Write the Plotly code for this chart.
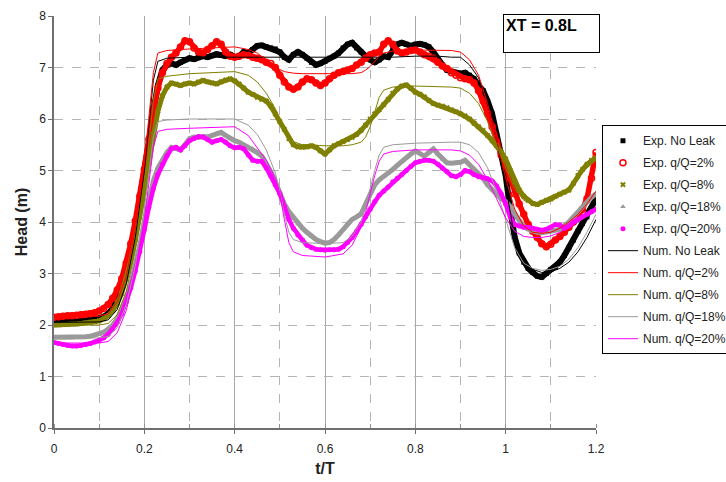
import plotly.graph_objects as go

# ---- sample times ----
t_exp = [round(i / 100, 2) for i in range(121)]  # 0.00 .. 1.20 step 0.01

t_num = [0.00, 0.05, 0.10, 0.12, 0.14, 0.16, 0.18, 0.20, 0.21, 0.22, 0.23, 0.25,
         0.30, 0.35, 0.40, 0.43, 0.45, 0.47, 0.49, 0.50, 0.51, 0.52, 0.53, 0.55,
         0.60, 0.64, 0.66, 0.68, 0.69, 0.70, 0.71, 0.72, 0.73, 0.75, 0.80, 0.85,
         0.88, 0.90, 0.92, 0.94, 0.96, 0.98, 1.00, 1.02, 1.04, 1.06, 1.08, 1.10,
         1.12, 1.14, 1.16, 1.18, 1.20]

# ---- experimental heads (m) ----
exp_no_leak = [
    2.05, 2.06, 2.07, 2.07, 2.08, 2.08, 2.08, 2.09, 2.10, 2.11,
    2.13, 2.16, 2.22, 2.32, 2.48, 2.72, 3.05, 3.45, 3.90, 4.40,
    4.95, 5.55, 6.15, 6.65, 6.95, 7.05, 7.08, 7.05, 7.10, 7.15,
    7.18, 7.16, 7.20, 7.22, 7.20, 7.23, 7.26, 7.24, 7.22, 7.25,
    7.20, 7.22, 7.30, 7.28, 7.35, 7.42, 7.43, 7.40, 7.38, 7.36,
    7.30, 7.20, 7.15, 7.25, 7.30, 7.25, 7.18, 7.10, 7.05, 7.08,
    7.12, 7.18, 7.22, 7.28, 7.38, 7.45, 7.48, 7.38, 7.30, 7.22,
    7.15, 7.10, 7.15, 7.22, 7.20, 7.35, 7.45, 7.48, 7.45, 7.42,
    7.45, 7.46, 7.44, 7.40, 7.30, 7.15, 7.05, 6.95, 6.92, 6.90,
    6.88, 6.90, 6.85, 6.78, 6.65, 6.55, 6.35, 6.10, 5.70, 5.30,
    4.90, 4.25, 3.70, 3.40, 3.22, 3.10, 3.02, 2.95, 2.93, 3.00,
    3.08, 3.12, 3.22, 3.35, 3.50, 3.65, 3.82, 3.97, 4.10, 4.25,
    4.45]

exp_q2 = [
    2.15, 2.16, 2.17, 2.18, 2.18, 2.19, 2.20, 2.21, 2.22, 2.24,
    2.27, 2.32, 2.40, 2.52, 2.68, 2.90, 3.20, 3.58, 4.02, 4.50,
    5.02, 5.60, 6.15, 6.60, 6.90, 7.08, 7.20, 7.28, 7.40, 7.52,
    7.50, 7.38, 7.30, 7.28, 7.35, 7.42, 7.50, 7.45, 7.30, 7.22,
    7.20, 7.22, 7.25, 7.24, 7.20, 7.18, 7.15, 7.10, 7.08, 7.00,
    6.85, 6.72, 6.62, 6.58, 6.62, 6.72, 6.78, 6.76, 6.70, 6.65,
    6.70, 6.78, 6.85, 6.90, 6.92, 6.95, 6.98, 7.05, 7.10, 7.18,
    7.25, 7.28, 7.30, 7.45, 7.52, 7.45, 7.32, 7.28, 7.30, 7.33,
    7.34, 7.30, 7.25, 7.22, 7.18, 7.10, 7.03, 6.98, 6.90, 6.85,
    6.80, 6.78, 6.76, 6.70, 6.55, 6.35, 6.10, 5.85, 5.55, 5.30,
    5.10, 4.85, 4.55, 4.35, 4.15, 3.95, 3.82, 3.70, 3.58, 3.52,
    3.57, 3.65, 3.72, 3.80, 3.90, 4.00, 4.12, 4.25, 4.45, 4.85,
    5.35]

exp_q8 = [
    2.00, 2.00, 2.01, 2.01, 2.02, 2.02, 2.03, 2.04, 2.05, 2.06,
    2.08, 2.12, 2.18, 2.28, 2.42, 2.62, 2.90, 3.25, 3.65, 4.10,
    4.60, 5.15, 5.70, 6.15, 6.45, 6.62, 6.70, 6.68, 6.65, 6.68,
    6.70, 6.68, 6.72, 6.75, 6.72, 6.70, 6.68, 6.72, 6.76, 6.78,
    6.74, 6.68, 6.60, 6.52, 6.48, 6.42, 6.38, 6.35, 6.25, 6.10,
    5.95, 5.80, 5.62, 5.50, 5.46, 5.45, 5.46, 5.48, 5.45, 5.38,
    5.32, 5.40, 5.48, 5.52, 5.56, 5.60, 5.64, 5.70, 5.78, 5.88,
    6.00, 6.10, 6.18, 6.28, 6.38, 6.50, 6.58, 6.64, 6.66, 6.60,
    6.52, 6.48, 6.43, 6.36, 6.30, 6.27, 6.25, 6.22, 6.18, 6.14,
    6.10, 6.06, 6.00, 5.92, 5.85, 5.78, 5.68, 5.58, 5.48, 5.36,
    5.22, 5.00, 4.78, 4.62, 4.50, 4.42, 4.36, 4.34, 4.38, 4.42,
    4.45, 4.50, 4.54, 4.58, 4.62, 4.75, 4.90, 5.02, 5.12, 5.20,
    5.25]

exp_q18 = [
    1.76, 1.76, 1.75, 1.75, 1.75, 1.76, 1.76, 1.77, 1.78, 1.80,
    1.82, 1.86, 1.92, 2.00, 2.12, 2.30, 2.52, 2.80, 3.15, 3.55,
    4.00, 4.45, 4.80, 5.05, 5.22, 5.35, 5.45, 5.42, 5.40, 5.50,
    5.62, 5.65, 5.64, 5.66, 5.65, 5.68, 5.72, 5.74, 5.68, 5.62,
    5.58, 5.55, 5.50, 5.46, 5.42, 5.35, 5.28, 5.15, 4.98, 4.78,
    4.55, 4.35, 4.20, 4.08, 3.96, 3.88, 3.80, 3.72, 3.66, 3.62,
    3.59, 3.60, 3.66, 3.75, 3.85, 3.98, 4.05, 4.10, 4.16, 4.35,
    4.55, 4.72, 4.82, 4.88, 4.95, 5.02, 5.10, 5.18, 5.25, 5.32,
    5.38, 5.34, 5.28, 5.35, 5.42, 5.32, 5.22, 5.15, 5.14, 5.15,
    5.16, 5.20, 5.12, 5.02, 4.95, 4.85, 4.72, 4.62, 4.55, 4.45,
    4.40, 4.30, 4.15, 4.02, 3.92, 3.86, 3.82, 3.80, 3.79, 3.80,
    3.82, 3.84, 3.86, 3.92, 4.00, 4.10, 4.20, 4.30, 4.40, 4.48,
    4.55]

exp_q20 = [
    1.66, 1.64, 1.62, 1.60, 1.59, 1.59, 1.60, 1.62, 1.64, 1.67,
    1.70, 1.75, 1.82, 1.92, 2.05, 2.22, 2.45, 2.72, 3.05, 3.42,
    3.85, 4.28, 4.65, 4.92, 5.12, 5.28, 5.42, 5.45, 5.40, 5.48,
    5.58, 5.62, 5.66, 5.65, 5.60, 5.55, 5.58, 5.60, 5.55, 5.48,
    5.44, 5.45, 5.42, 5.30, 5.20, 5.18, 5.18, 5.05, 4.90, 4.72,
    4.55, 4.30, 4.05, 3.88, 3.75, 3.65, 3.55, 3.50, 3.47, 3.46,
    3.45, 3.46, 3.46, 3.47, 3.52, 3.60, 3.70, 3.82, 3.95, 4.10,
    4.25, 4.40, 4.52, 4.60, 4.68, 4.78, 4.85, 4.92, 5.00, 5.08,
    5.15, 5.18, 5.20, 5.20, 5.18, 5.12, 5.05, 4.98, 4.90, 4.88,
    4.92, 5.00, 4.98, 4.92, 4.88, 4.86, 4.84, 4.80, 4.70, 4.55,
    4.35, 4.10, 3.95, 3.92, 3.90, 3.90, 3.88, 3.86, 3.84, 3.86,
    3.90, 3.95, 3.94, 3.88, 3.92, 4.00, 4.05, 4.10, 4.15, 4.20,
    4.25]

# ---- numerical heads (m) ----
num_no_leak = [
    2.05, 2.05, 2.06, 2.10, 2.30, 2.80, 3.70, 5.00, 5.85, 6.75, 7.12, 7.18,
    7.20, 7.20, 7.20, 7.20, 7.20, 7.20, 7.20, 7.20, 7.20, 7.20, 7.20, 7.20,
    7.20, 7.20, 7.20, 7.20, 7.20, 7.20, 7.20, 7.20, 7.20, 7.20, 7.22, 7.22,
    7.20, 7.20, 7.05, 6.80, 6.30, 5.60, 4.70, 3.70, 3.25, 3.08, 3.02, 3.03,
    3.10, 3.22, 3.42, 3.70, 4.05]

num_q2 = [
    2.17, 2.17, 2.17, 2.22, 2.45, 2.95, 3.85, 5.15, 6.00, 6.90, 7.28, 7.33,
    7.36, 7.38, 7.40, 7.35, 7.28, 7.15, 7.02, 6.96, 6.92, 6.90, 6.89, 6.88,
    6.88, 6.88, 6.88, 6.90, 6.95, 7.02, 7.12, 7.22, 7.28, 7.32, 7.34, 7.34,
    7.33, 7.30, 7.15, 6.85, 6.30, 5.60, 4.85, 4.25, 3.92, 3.80, 3.78, 3.80,
    3.88, 4.00, 4.15, 4.35, 4.60]

num_q8 = [
    2.00, 2.00, 2.00, 2.03, 2.20, 2.65, 3.45, 4.70, 5.50, 6.35, 6.78, 6.83,
    6.88, 6.90, 6.92, 6.85, 6.72, 6.50, 6.20, 6.00, 5.80, 5.65, 5.56, 5.50,
    5.48, 5.48, 5.50, 5.55, 5.65, 5.85, 6.15, 6.42, 6.56, 6.62, 6.64, 6.63,
    6.62, 6.60, 6.50, 6.30, 5.95, 5.50, 5.05, 4.65, 4.42, 4.35, 4.35, 4.40,
    4.50, 4.65, 4.85, 5.05, 5.20]

num_q18 = [
    1.75, 1.75, 1.75, 1.78, 1.95, 2.40, 3.15, 4.25, 4.95, 5.65, 5.95, 5.98,
    6.00, 6.00, 6.00, 5.88, 5.70, 5.40, 4.95, 4.60, 4.15, 3.80, 3.66, 3.60,
    3.58, 3.60, 3.72, 4.00, 4.30, 4.65, 5.00, 5.30, 5.45, 5.50, 5.53, 5.55,
    5.55, 5.55, 5.50, 5.35, 5.05, 4.60, 4.05, 3.50, 3.20, 3.10, 3.06, 3.08,
    3.14, 3.28, 3.50, 3.80, 4.15]

num_q20 = [
    1.65, 1.65, 1.65, 1.68, 1.85, 2.28, 3.00, 4.05, 4.75, 5.45, 5.76, 5.80,
    5.82, 5.84, 5.85, 5.68, 5.45, 5.20, 4.85, 4.55, 4.05, 3.60, 3.42, 3.35,
    3.32, 3.38, 3.55, 3.90, 4.20, 4.55, 4.90, 5.18, 5.32, 5.37, 5.40, 5.40,
    5.40, 5.38, 5.30, 5.12, 4.82, 4.45, 4.08, 3.82, 3.72, 3.70, 3.70, 3.73,
    3.80, 3.90, 4.00, 4.12, 4.25]

FONT = "Liberation Sans, Arial, sans-serif"
OLIVE = "#808000"
GRAY = "#9a9a9a"
MAGENTA = "#ff00ff"

exp_series = [
    ("Exp. No Leak", exp_no_leak, "black", 6,
     dict(symbol="square", size=5, color="black")),
    ("Exp. q/Q=2%", exp_q2, "red", 5.5,
     dict(symbol="circle-open", size=6, color="red", line=dict(width=1.5))),
    ("Exp. q/Q=8%", exp_q8, OLIVE, 5,
     dict(symbol="x", size=5, color=OLIVE)),
    ("Exp. q/Q=18%", exp_q18, GRAY, 5,
     dict(symbol="triangle-up", size=5, color=GRAY)),
    ("Exp. q/Q=20%", exp_q20, MAGENTA, 4.5,
     dict(symbol="circle", size=5, color=MAGENTA)),
]
num_series = [
    ("Num. No Leak", num_no_leak, "black"),
    ("Num. q/Q=2%", num_q2, "red"),
    ("Num. q/Q=8%", num_q8, OLIVE),
    ("Num. q/Q=18%", num_q18, GRAY),
    ("Num. q/Q=20%", num_q20, MAGENTA),
]

fig = go.Figure()

# measured series: a thick band of overlapping markers
for name, ys, col, w, mk in exp_series:
    fig.add_trace(go.Scatter(x=t_exp, y=ys, mode="lines", line=dict(color=col, width=w),
                             showlegend=False, legendgroup=name, hoverinfo="skip"))
    fig.add_trace(go.Scatter(x=t_exp, y=ys, mode="markers", marker=mk, name=name,
                             legendgroup=name))

# simulated series: thin lines
for name, ys, col in num_series:
    fig.add_trace(go.Scatter(x=t_num, y=ys, mode="lines", line=dict(color=col, width=1),
                             name=name, legendgroup=name))

fig.add_annotation(
    text="<b>XT = 0.8L</b>", xref="paper", yref="paper", x=0.828, y=1.005,
    xanchor="left", yanchor="top", showarrow=False, align="left", valign="top",
    width=91, height=33, bordercolor="black", borderwidth=1, bgcolor="white",
    borderpad=2, font=dict(family=FONT, size=16, color="black"))

fig.update_layout(
    width=726, height=482,
    margin=dict(l=54, r=130, t=16, b=54, autoexpand=False),
    paper_bgcolor="white", plot_bgcolor="white",
    font=dict(family=FONT, size=12, color="#222222"),
    legend=dict(x=1.011, y=0.735, xanchor="left", yanchor="top",
                bordercolor="black", borderwidth=1, bgcolor="white",
                font=dict(family=FONT, size=12, color="#222222"),
                itemwidth=30, tracegroupgap=3, traceorder="grouped"),
    xaxis=dict(
        range=[0, 1.2], dtick=0.2, tickformat="~g",
        showgrid=True, gridcolor="#a8a8a8", gridwidth=1,
        showline=True, linecolor="#707070", linewidth=1.5,
        ticks="outside", ticklen=4, tickcolor="#707070", ticklabelstandoff=5,
        minor=dict(dtick=0.1, showgrid=True, gridcolor="#b4b4b4", griddash="dash",
                   ticks="inside", ticklen=4, tickcolor="#909090"),
        zeroline=False,
        title=dict(text="<b>t/T</b>", font=dict(family=FONT, size=16, color="#222222"),
                   standoff=8),
    ),
    yaxis=dict(
        range=[0, 8], dtick=1,
        showgrid=True, gridcolor="#b4b4b4", griddash="dash", gridwidth=1,
        showline=True, linecolor="#707070", linewidth=1.5,
        ticks="outside", ticklen=4, tickcolor="#707070",
        zeroline=False,
        title=dict(text="<b>Head (m)</b>", font=dict(family=FONT, size=16, color="#222222"),
                   standoff=8),
    ),
)

fig.write_html("out.html")
